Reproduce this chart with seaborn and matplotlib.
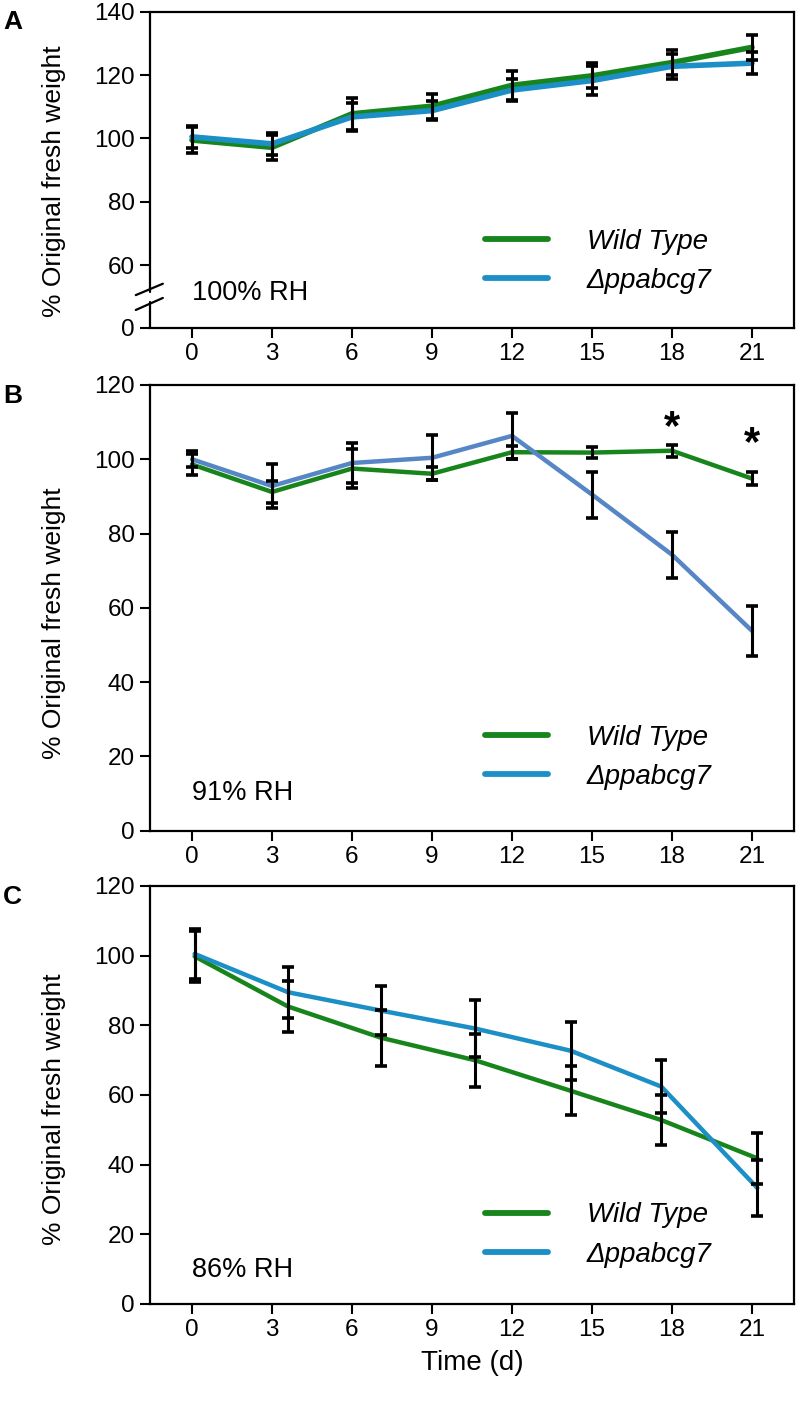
import matplotlib
matplotlib.use("Agg")
import matplotlib.pyplot as plt
import pandas as pd
import seaborn as sns
from matplotlib.lines import Line2D

DAYS = [0, 3, 6, 9, 12, 15, 18, 21]
DAYS_C = [0.1, 3.6, 7.1, 10.6, 14.2, 17.6, 21.2]
GENOTYPES = ["Wild Type", "Δppabcg7"]

# panel A, 100% RH
A_WT = [99.5, 97.2, 107.8, 110.2, 116.8, 119.8, 124.0, 128.8]
A_WT_ERR = [4.0, 4.0, 5.0, 4.0, 4.5, 4.0, 4.0, 4.0]
A_KO = [100.5, 98.3, 106.8, 108.8, 115.3, 118.3, 122.8, 123.8]
A_KO_ERR = [3.5, 3.5, 4.5, 3.0, 3.5, 4.5, 4.0, 3.5]

# panel B, 91% RH
B_WT = [98.6, 91.2, 97.5, 96.1, 101.9, 101.8, 102.3, 94.8]
B_WT_ERR = [2.8, 3.0, 5.2, 1.7, 1.8, 1.5, 1.6, 1.7]
B_KO = [100.0, 92.8, 99.0, 100.4, 106.3, 90.5, 74.3, 53.8]
B_KO_ERR = [2.2, 6.0, 5.5, 6.0, 6.2, 6.2, 6.2, 6.8]
B_STARS_X = [18, 21]
B_STARS_Y = [108.3, 104.0]

# panel C, 86% RH
C_WT = [99.8, 85.4, 76.4, 70.0, 61.2, 52.8, 41.8]
C_WT_ERR = [7.4, 7.3, 8.1, 7.6, 7.0, 7.2, 7.4]
C_KO = [100.5, 89.5, 84.2, 79.1, 72.7, 62.4, 33.3]
C_KO_ERR = [7.2, 7.3, 7.1, 8.2, 8.3, 7.7, 8.0]

A_BREAK_LOW = 40.1

GREEN = "#17851b"
BLUE = "#1b8fc6"
STEEL = "#5686c6"


def long_frame(days, wt, wt_err, ko, ko_err):
    rows = []
    for g, vals, errs in [(GENOTYPES[0], wt, wt_err), (GENOTYPES[1], ko, ko_err)]:
        for d, v, e in zip(days, vals, errs):
            rows.append({"day": d, "weight": v, "err": e, "genotype": g})
    return pd.DataFrame(rows)


def draw_panel(ax, df, line_colors, lw, ylim, rh_text, rh_y, legend_y):
    sns.lineplot(data=df, x="day", y="weight", hue="genotype", hue_order=GENOTYPES,
                 palette=line_colors, linewidth=lw, ax=ax, legend=False, zorder=2)
    for g in GENOTYPES:
        sub = df[df["genotype"] == g]
        ax.errorbar(sub["day"], sub["weight"], yerr=sub["err"], fmt="none",
                    ecolor="black", elinewidth=2.2, capsize=4.5, capthick=2.6, zorder=3)
    ax.set_xlim(-1.575, 22.575)
    ax.set_ylim(*ylim)
    ax.set_xticks(DAYS)
    ax.set_xlabel("")
    ax.set_ylabel("% Original fresh weight", fontsize=19)
    ax.yaxis.set_label_coords(-0.13, 0.465)
    for s in ax.spines.values():
        s.set_linewidth(1.6)
        s.set_color("black")
    ax.tick_params(axis="both", length=7, width=1.5, labelsize=17.5, pad=4, color="black")
    ax.text(0.065, rh_y, rh_text, transform=ax.transAxes, fontsize=19.5, va="center", ha="left")
    handles = [Line2D([], [], color=GREEN, lw=4.2), Line2D([], [], color=BLUE, lw=4.2)]
    ax.legend(handles, GENOTYPES, loc="center left", bbox_to_anchor=(0.52, legend_y),
              frameon=False, borderpad=0, borderaxespad=0, handlelength=2.27,
              handletextpad=1.4, labelspacing=0.47, prop={"style": "italic", "size": 20})


def main():
    sns.set_style("ticks")
    plt.rcParams["font.family"] = ["Liberation Sans", "DejaVu Sans"]
    plt.rcParams.update({"text.color": "black", "axes.labelcolor": "black",
                         "xtick.color": "black", "ytick.color": "black"})

    fig = plt.figure(figsize=(7.96, 14.18), dpi=100)
    ax_a = fig.add_axes([0.1884, 0.7687, 0.8091, 0.2229])
    ax_b = fig.add_axes([0.1884, 0.4142, 0.8091, 0.3143])
    ax_c = fig.add_axes([0.1884, 0.0804, 0.8091, 0.2948])

    df_a = long_frame(DAYS, A_WT, A_WT_ERR, A_KO, A_KO_ERR)
    draw_panel(ax_a, df_a, [GREEN, BLUE], 4.0, (A_BREAK_LOW, 140), "100% RH", 0.111, 0.21)
    ax_a.set_yticks([A_BREAK_LOW, 60, 80, 100, 120, 140])
    ax_a.set_yticklabels(["0", "60", "80", "100", "120", "140"])
    # axis break on the left spine
    ax_a.spines["left"].set_visible(False)
    kw = dict(transform=ax_a.transAxes, color="black", lw=1.6, clip_on=False)
    ax_a.plot([0, 0], [0.115, 1], **kw)
    ax_a.plot([0, 0], [0, 0.082], **kw)
    ax_a.plot([-0.022, 0.02], [0.104, 0.14], **kw)
    ax_a.plot([-0.022, 0.02], [0.057, 0.095], **kw)

    df_b = long_frame(DAYS, B_WT, B_WT_ERR, B_KO, B_KO_ERR)
    draw_panel(ax_b, df_b, [GREEN, STEEL], 3.2, (0, 120), "91% RH", 0.085, 0.165)
    ax_b.set_yticks(range(0, 121, 20))
    for x, y in zip(B_STARS_X, B_STARS_Y):
        ax_b.text(x, y, "*", fontsize=30, fontweight="bold", ha="center", va="center")

    df_c = long_frame(DAYS_C, C_WT, C_WT_ERR, C_KO, C_KO_ERR)
    draw_panel(ax_c, df_c, [GREEN, BLUE], 3.2, (0, 120), "86% RH", 0.081, 0.165)
    ax_c.set_yticks(range(0, 121, 20))
    ax_c.set_xlabel("Time (d)", fontsize=20, labelpad=6)

    for ax, letter in [(ax_a, "A"), (ax_b, "B"), (ax_c, "C")]:
        pos = ax.get_position()
        fig.text(0.004, pos.y1 + 0.001, letter, fontsize=19, fontweight="bold",
                 ha="left", va="top")

    fig.savefig("out.png", dpi=100)


if __name__ == "__main__":
    main()
